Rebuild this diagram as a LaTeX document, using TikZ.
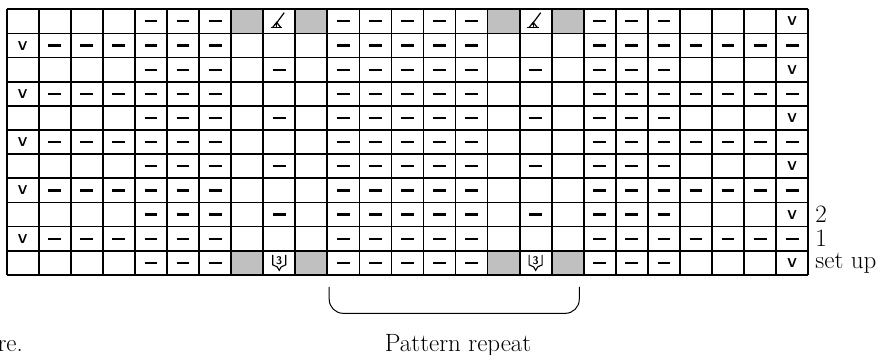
\documentclass[tikz,border=0pt]{standalone}
\definecolor{grisclair}{RGB}{192,192,192}
\begin{document}
\begin{tikzpicture}  % ------ Grille de tricot : motif a repeter -------
      [x={(32.06pt,0pt)},y={(0pt,-24.15pt)},
       gris/.style={fill=grisclair},
       trait/.style={line width=1.7pt},
       envers/.style={line width=2.2pt},
       glisse/.style={inner sep=0pt, font=\fontsize{13}{13}\sffamily\bfseries},
       legende/.style={inner sep=0pt, font=\fontsize{25}{28}\selectfont}]
    \useasboundingbox (-0.209,-0.385) rectangle (27.24,14.315);

    % cases grises (premier rang et montage)
    \foreach \c in {8,10,16,18} {
        \fill[gris] (\c-1,0) rectangle (\c,1);
        \fill[gris] (\c-1,10) rectangle (\c,11);
    }

    % tirets (mailles envers)
    \foreach \r in {2,4,6,8,10} {
        \foreach \c in {2,3,4,5,6,7,11,12,13,14,15,19,20,21,22,23,24,25}
            \draw[envers] (\c-0.7,\r-0.5) -- (\c-0.3,\r-0.5);
        \node[glisse] (v\r) at (0.5,\r-0.5) {V};
    }
    \foreach \r in {3,5,7,9} {
        \foreach \c in {5,6,7,9,11,12,13,14,15,17,19,20,21}
            \draw[envers] (\c-0.7,\r-0.5) -- (\c-0.3,\r-0.5);
        \node[glisse] (v\r) at (24.5,\r-0.5) {V};
    }
    \foreach \r in {1,11} {
        \foreach \c in {5,6,7,11,12,13,14,15,19,20,21}
            \draw[envers] (\c-0.7,\r-0.5) -- (\c-0.3,\r-0.5);
        \node[glisse] (v\r) at (24.5,\r-0.5) {V};
    }

    % symboles du premier rang et du rang de montage
    \foreach \c in {9,17} {
        \begin{scope}[shift={(\c-0.5,0.5)}, x=1pt, y=-1pt, line width=1.2pt]
            \draw (-8.5,6) -- (3,6);
            \draw (-6.5,6) -- (-2.5,1) -- (1.5,6);
            \draw (-2.5,1) -- (-2.5,6);
            \draw (-4,3.5) -- (5,-8.7);
        \end{scope}
        \begin{scope}[shift={(\c-0.5,10.5)}, x=1pt, y=-1pt, line width=1.1pt]
            \draw (-6.5,-8) -- (-6.5,2) -- (-2,4) -- (0,7.5) -- (2,4) -- (6.5,2) -- (6.5,-8);
            \node[inner sep=0pt, font=\fontsize{11}{11}\sffamily\bfseries] (trois\c) at (0,-2.5) {3};
        \end{scope}
    }

    % grille
    \foreach \c in {0,...,25}
        \draw[trait] (\c,0) -- (\c,11);
    \foreach \r in {0,...,11}
        \draw[trait] (0,\r) -- (25,\r);

    % numeros des rangs
    \node[legende, anchor=west] (rang2) at (25.22,8.5) {2};
    \node[legende, anchor=west] (rang1) at (25.22,9.5) {1};
    \node[legende, anchor=west] (montage) at (25.22,10.5) {set up};

    % accolade du motif
    \coordinate (acc1) at (10.06,11.49);
    \coordinate (acc2) at (17.86,11.49);
    \draw[line width=1pt, rounded corners=14pt] (acc1) -- (10.06,12.59) -- (17.86,12.59) -- (acc2);
    \node[legende, anchor=base] (motif) at (14.08,14.19) {Pattern repeat};
    \node[legende, anchor=base east] (fin) at (0.51,14.19) {re.};
\end{tikzpicture}
\end{document}
